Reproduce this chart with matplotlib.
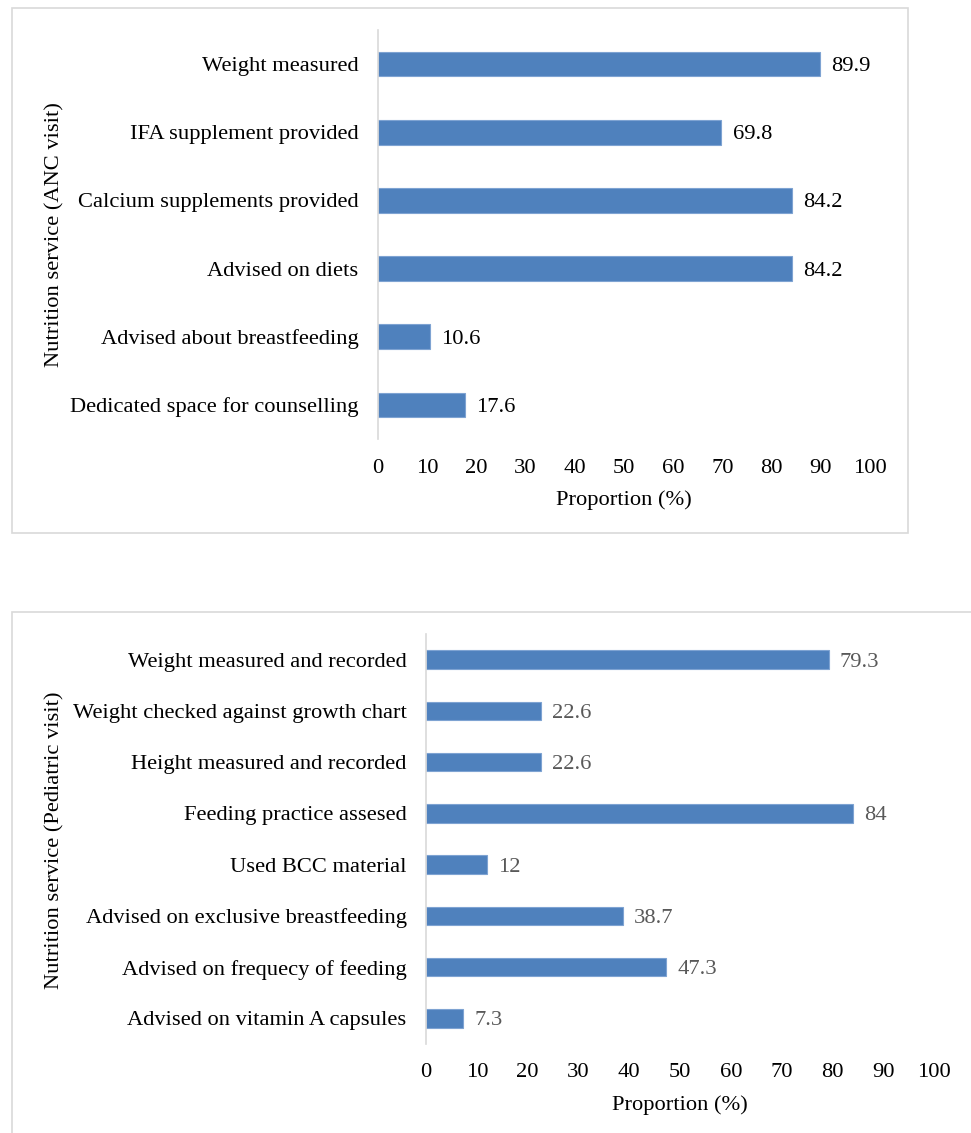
import matplotlib
matplotlib.use("Agg")
import matplotlib.pyplot as plt
from matplotlib.patches import Rectangle

plt.rcParams['font.family'] = ['Liberation Serif', 'DejaVu Serif']

anc_labels = ["Weight measured", "IFA supplement provided", "Calcium supplements provided",
              "Advised on diets", "Advised about breastfeeding", "Dedicated space for counselling"]
anc_values = [89.9, 69.8, 84.2, 84.2, 10.6, 17.6]

ped_labels = ["Weight measured and recorded", "Weight checked against growth chart",
              "Height measured and recorded", "Feeding practice assesed", "Used BCC material",
              "Advised on exclusive breastfeeding", "Advised on frequecy of feeding",
              "Advised on vitamin A capsules"]
ped_values = [79.3, 22.6, 22.6, 84, 12, 38.7, 47.3, 7.3]
ped_value_text = ["79.3", "22.6", "22.6", "84", "12", "38.7", "47.3", "7.3"]

xticks = [0, 10, 20, 30, 40, 50, 60, 70, 80, 90, 100]

W, H = 971, 1133
fig = plt.figure(figsize=(W / 100, H / 100), dpi=100)

def px_axes(x0, x1, y0, y1):
    return fig.add_axes([x0 / W, 1 - y1 / H, (x1 - x0) / W, (y1 - y0) / H])

def border(x0, y0, x1, y1):
    fig.patches.append(Rectangle((x0 / W, 1 - y1 / H), (x1 - x0) / W, (y1 - y0) / H,
                                 transform=fig.transFigure, fill=False,
                                 edgecolor='#d9d9d9', linewidth=1.2))

BAR = '#4f81bd'
FS = 16.2

def draw(ax, labels, values, texts, label_color, ylabel, bar_h, pad_pts, lpad):
    n = len(labels)
    ypos = list(range(n))[::-1]
    bars = ax.barh(ypos, values, height=bar_h, color=BAR, edgecolor='#7ea3d2', linewidth=0.8)
    anns = ax.bar_label(bars, labels=texts, padding=8, fontsize=FS, color=label_color)
    for a in anns:
        a.set_verticalalignment('center_baseline')
    ax.set_xlim(0, 100)
    ax.set_ylim(-0.5, n - 0.5)
    ax.set_yticks(ypos)
    ax.set_yticklabels(labels, fontsize=FS)
    ax.set_xticks(xticks)
    ax.set_xticklabels([str(t) for t in xticks], fontsize=FS)
    ax.tick_params(axis='x', length=0, pad=pad_pts)
    ax.tick_params(axis='y', length=0, pad=14)
    for s in ['top', 'right', 'bottom']:
        ax.spines[s].set_visible(False)
    ax.spines['left'].set_color('#d9d9d9')
    ax.spines['left'].set_linewidth(1.2)
    ax.set_xlabel("Proportion (%)", fontsize=FS, labelpad=lpad)
    ax.set_ylabel(ylabel, fontsize=FS)
    ax.patch.set_alpha(0)

border(12, 8, 908, 533)
ax1 = px_axes(378, 870, 30, 439)
draw(ax1, anc_labels, anc_values, [str(v) for v in anc_values], 'black',
     "Nutrition service (ANC visit)", 0.36, 14.5, 8.5)
ax1.yaxis.set_label_coords(64 / W, 1 - 235 / H, transform=fig.transFigure)

border(12, 612, 990, 1150)
ax2 = px_axes(426, 934, 634, 1044)
draw(ax2, ped_labels, ped_values, ped_value_text, '#595959',
     "Nutrition service (Pediatric visit)", 0.36, 13.5, 10)
ax2.yaxis.set_label_coords(64 / W, 1 - 840 / H, transform=fig.transFigure)

fig.savefig("out.png", dpi=100, facecolor='white')
